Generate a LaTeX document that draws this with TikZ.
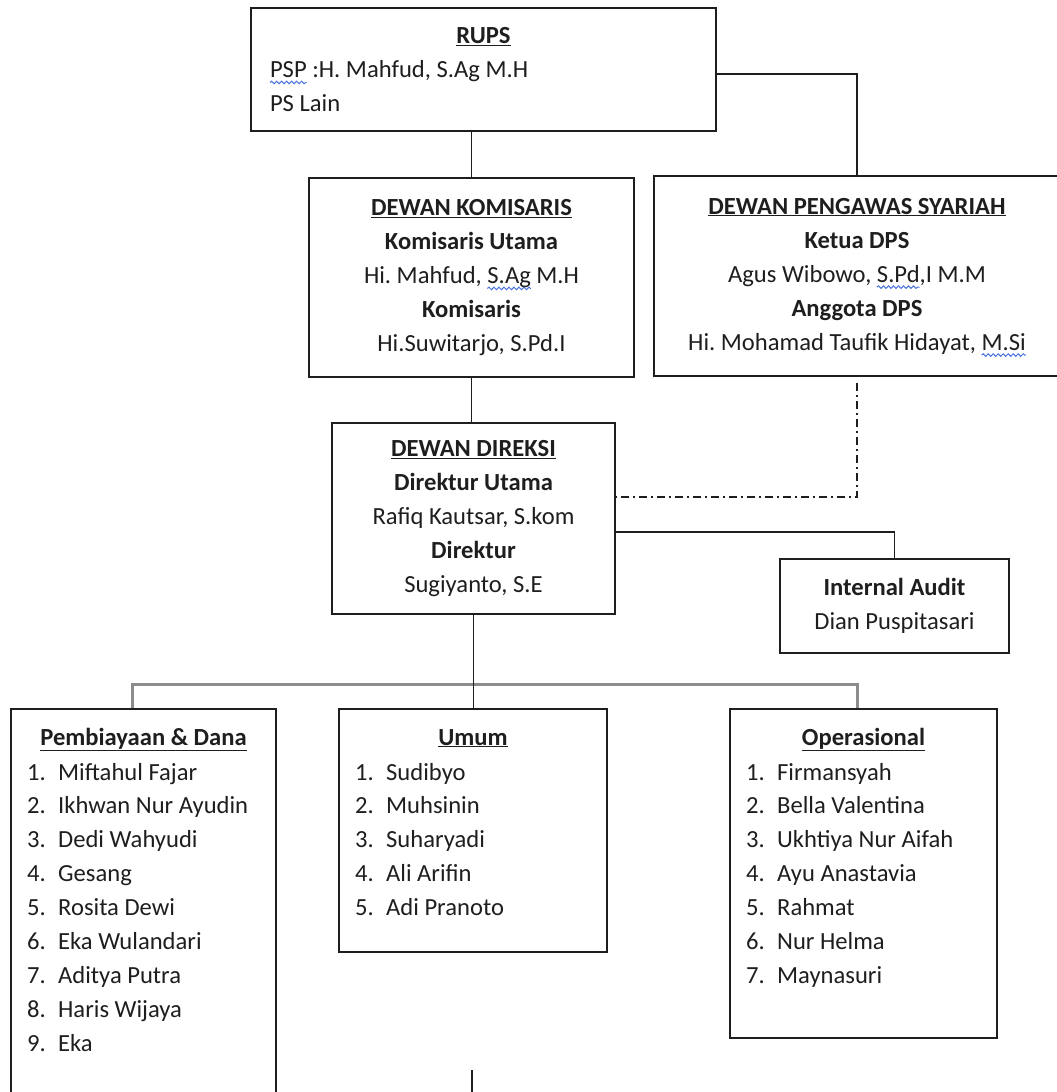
\documentclass[tikz,border=0pt]{standalone}
\usepackage{fontspec}
\setmainfont{Carlito}
\usetikzlibrary{positioning,decorations.pathmorphing}
\definecolor{Ink}{HTML}{1E1E1E}
\definecolor{Bus}{HTML}{8C8C8C}
\definecolor{Spell}{HTML}{4A72E0}
\newcommand\boxhead[1]{\underline{\textbf{#1}}}
% spell-check squiggle under a word
\newlength\spellw
\newcommand\spell[1]{\settowidth\spellw{#1}\mbox{\rlap{\tikz[overlay,baseline=0pt]
  \draw[Spell, line width=1pt, decorate, decoration={snake, amplitude=1.3pt, segment length=5pt}]
    (0pt,-5pt) -- (\spellw,-5pt);}#1}}
\tikzset{
  orgbox/.style={draw=Ink, line width=1.5pt, inner sep=0pt, text=Ink,
    font=\fontsize{24.6}{34}\selectfont},
  head/.style={anchor=base, text=Ink, font=\fontsize{24.6}{34}\selectfont},
  member/.style={anchor=base west, inner sep=0pt, text=Ink,
    font=\fontsize{24.6}{34}\selectfont},
  link/.style={draw=Ink, line width=1.4pt},
  bus/.style={draw=Bus, line width=3pt},
  dpsline/.style={draw=Ink, line width=1.3pt,
    dash pattern=on 8pt off 4pt on 2pt off 4pt}
}

\begin{document}
\frenchspacing
\begin{tikzpicture}[x=1pt,y=-1pt]
  \useasboundingbox (0,0) rectangle (1057,1092);
  % board level
  \node[orgbox, minimum width=465pt, minimum height=123pt, align=center] (rups) at (483.5,69.5)
    {\boxhead{RUPS}\\ \makebox[427pt][l]{\spell{PSP} :H. Mahfud, S.Ag M.H}\\ \makebox[427pt][l]{PS Lain}};
  \node[orgbox, minimum width=325pt, minimum height=199pt, align=center] (kom) at (471.5,277.5)
    {\boxhead{DEWAN KOMISARIS}\\ \textbf{Komisaris Utama}\\ Hi. Mahfud, \spell{S.Ag} M.H\\ \textbf{Komisaris}\\ Hi.Suwitarjo, S.Pd.I};
  \node[orgbox, minimum width=406pt, minimum height=200pt, align=center] (dps) at (857,276)
    {\boxhead{DEWAN PENGAWAS SYARIAH}\\ \textbf{Ketua DPS}\\ Agus Wibowo, \spell{S.Pd},I M.M\\ \textbf{Anggota DPS}\\ Hi. Mohamad Taufik Hidayat, \spell{M.Si}};
  \node[orgbox, minimum width=283pt, minimum height=191pt, align=center] (dir) at (473.5,518.5)
    {\boxhead{DEWAN DIREKSI}\\ \textbf{Direktur Utama}\\ Rafiq Kautsar, S.kom\\ \textbf{Direktur}\\ Sugiyanto, S.E};
  \node[orgbox, minimum width=229pt, minimum height=94pt, align=center] (audit) at (894.5,606)
    {\textbf{Internal Audit}\\ Dian Puspitasari};

  % divisions
  \node[orgbox, minimum width=265pt, minimum height=400pt] (pd) at (143.5,909) {};
  \node[orgbox, minimum width=268pt, minimum height=243pt] (um) at (473,830.5) {};
  \node[orgbox, minimum width=267pt, minimum height=329pt] (ops) at (863.5,873.5) {};
  \node[head] (pdhead) at (143.5,745) {\boxhead{Pembiayaan \& Dana}};
  \node[head] (umhead) at (473,745) {\boxhead{Umum}};
  \node[head] (opshead) at (863.5,745) {\boxhead{Operasional}};
  \foreach \n/\nm in {1/Miftahul Fajar, 2/Ikhwan Nur Ayudin, 3/Dedi Wahyudi,
    4/Gesang, 5/Rosita Dewi, 6/Eka Wulandari, 7/Aditya Putra, 8/Haris Wijaya, 9/Eka}
    \node[member] (pd\n) at (27,{780+33.9*(\n-1)}) {\makebox[31pt][l]{\n.}\nm};
  \foreach \n/\nm in {1/Sudibyo, 2/Muhsinin, 3/Suharyadi, 4/Ali Arifin, 5/Adi Pranoto}
    \node[member] (um\n) at (355,{780+33.9*(\n-1)}) {\makebox[31pt][l]{\n.}\nm};
  \foreach \n/\nm in {1/Firmansyah, 2/Bella Valentina, 3/Ukhtiya Nur Aifah,
    4/Ayu Anastavia, 5/Rahmat, 6/Nur Helma, 7/Maynasuri}
    \node[member] (ops\n) at (746,{780+33.9*(\n-1)}) {\makebox[31pt][l]{\n.}\nm};

  % connectors
  \coordinate (rupsturn) at (857,74);
  \draw[link] (rups.east |- rupsturn) -| (dps.north);
  \draw[link] (rups.south -| kom.north) -- (kom.north);
  \draw[link] (kom.south) -- (kom.south |- dir.north);
  \coordinate (dpsfoot) at (857,383);
  \coordinate (dpsturn) at (857,497);
  \draw[dpsline] (dpsfoot) -- (dpsturn) -- (dir.east |- dpsturn);
  \coordinate (auditturn) at (894.5,532);
  \draw[link] (dir.east |- auditturn) -| (audit.north);
  \coordinate (busL) at (132,684);
  \coordinate (busR) at (857,684);
  \draw[bus] (pd.north -| busL) -- (busL) -- (busR) -- (ops.north -| busR);
  \draw[link] (dir.south) -- (dir.south |- um.north);
  \coordinate (stub) at (472,1070);
  \draw[link] (stub) -- ++(0,25);
\end{tikzpicture}
\end{document}
